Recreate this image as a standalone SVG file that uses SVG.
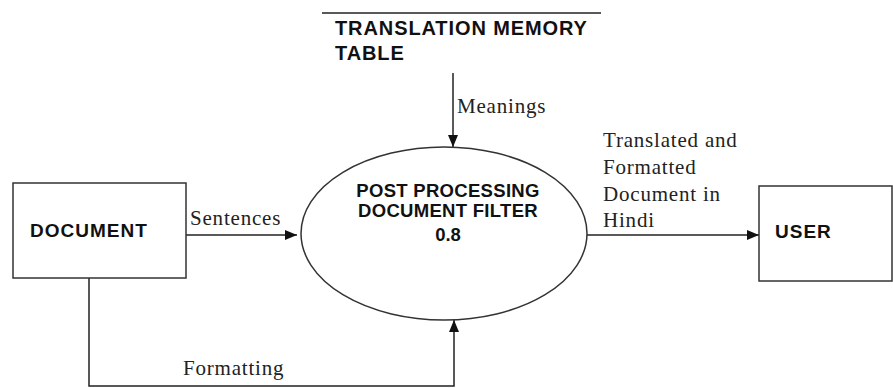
<svg xmlns="http://www.w3.org/2000/svg" width="893" height="388" viewBox="0 0 893 388">
<style>
.box{fill:#fff;stroke:#333;stroke-width:1.5}
.ln{fill:none;stroke:#222;stroke-width:1.5}
.b{font-family:"Liberation Sans",Arial,sans-serif;font-weight:bold;fill:#111}
.s{font-family:"Liberation Serif","Times New Roman",serif;font-size:21px;letter-spacing:0.8px;fill:#222}
</style>
<defs>
<marker id="ah" markerWidth="12" markerHeight="10" refX="12" refY="5" orient="auto" markerUnits="userSpaceOnUse">
<path d="M0,0 L12,5 L0,10 Z" fill="#111"/>
</marker>
</defs>
<rect width="893" height="388" fill="#fff"/>
<g id="connectors">
<path class="ln" d="M186,235 H297" marker-end="url(#ah)"/>
<path class="ln" d="M453,73 V147" marker-end="url(#ah)"/>
<path class="ln" d="M587,235 H759" marker-end="url(#ah)"/>
<path class="ln" d="M89,278 V386 H454 V320" marker-end="url(#ah)"/>
<text class="s" x="190" y="225">Sentences</text>
<text class="s" x="457" y="113">Meanings</text>
<text class="s" x="183" y="375">Formatting</text>
<text class="s" x="603" y="147">Translated and</text>
<text class="s" x="603" y="174">Formatted</text>
<text class="s" x="603" y="201">Document in</text>
<text class="s" x="603" y="227">Hindi</text>
</g>
<g id="document">
<rect class="box" x="13" y="183" width="173" height="95"/>
<text class="b" x="30" y="237" font-size="19" letter-spacing="1">DOCUMENT</text>
</g>
<g id="tm-table">
<path class="ln" d="M322,13 H601"/>
<text class="b" x="335" y="35" font-size="20" letter-spacing="0.9">TRANSLATION MEMORY</text>
<text class="b" x="335" y="60" font-size="20" letter-spacing="0.9">TABLE</text>
</g>
<g id="process">
<ellipse class="box" cx="444" cy="233.5" rx="143" ry="86.5"/>
<text class="b" x="448" y="197" font-size="18.5" letter-spacing="0.3" text-anchor="middle">POST PROCESSING</text>
<text class="b" x="448" y="217" font-size="18.5" letter-spacing="0.3" text-anchor="middle">DOCUMENT FILTER</text>
<text class="b" x="448" y="241" font-size="18.5" text-anchor="middle">0.8</text>
</g>
<g id="user">
<rect class="box" x="759" y="186" width="133" height="95"/>
<text class="b" x="775" y="238" font-size="19" letter-spacing="1">USER</text>
</g>
</svg>
